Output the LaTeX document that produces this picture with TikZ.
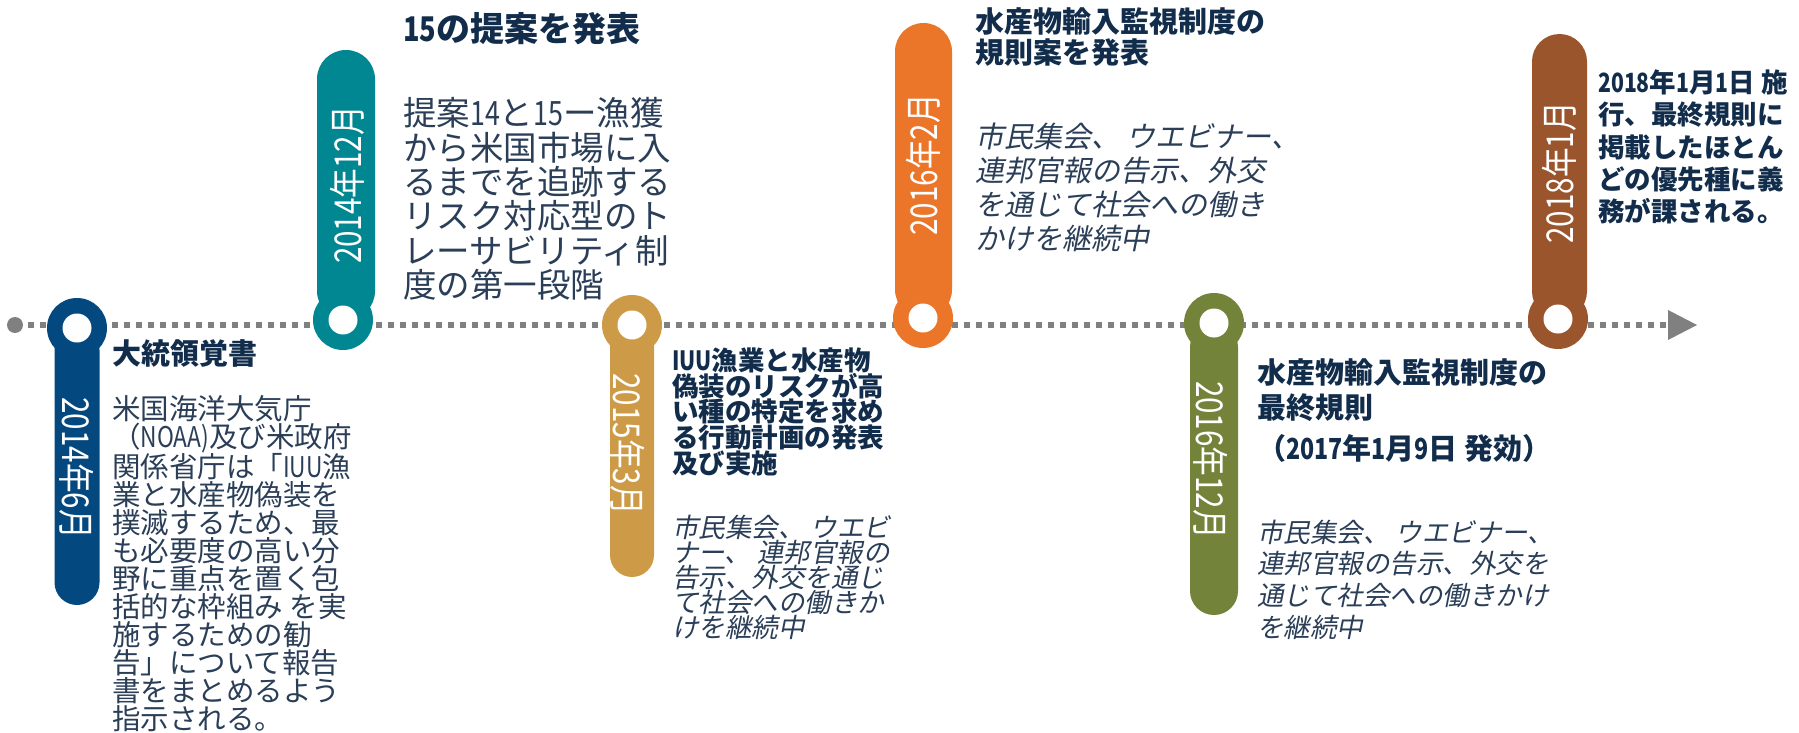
\documentclass[tikz,border=0pt]{standalone}
\usepackage{fontspec}
\setmainfont{Noto Sans CJK JP}
\newfontfamily\jpit{Noto Sans CJK JP}[FakeSlant=0.2]
\newfontfamily\jpcn{Noto Sans CJK JP}[FakeStretch=0.8]
\newcommand\cn[1]{{\jpcn #1}}
\definecolor{cnavy}{RGB}{4,72,128}
\definecolor{cteal}{RGB}{0,135,145}
\definecolor{cgold}{RGB}{205,155,72}
\definecolor{corange}{RGB}{235,117,40}
\definecolor{cgreen}{RGB}{115,132,58}
\definecolor{cbrown}{RGB}{155,85,45}
\definecolor{cline}{RGB}{128,128,128}
\definecolor{ctitle}{RGB}{18,45,75}
\definecolor{cbody}{RGB}{42,62,88}
\tikzset{
  timeline/.style={draw=cline, line width=5.5pt, dash pattern=on 5.5pt off 6.5pt},
  startdot/.style={circle, fill=cline, inner sep=0, minimum size=16pt},
  ring/.style={circle, fill=#1, inner sep=0, minimum size=60pt},
  hole/.style={circle, fill=white, inner sep=0, minimum size=29pt},
  datelbl/.style={text=white, inner sep=0, font=\jpcn\fontsize{37}{37}\selectfont},
  ttl/.style={anchor=north west, inner sep=0, align=left, text=ctitle},
  bdy/.style={anchor=north west, inner sep=0, align=left, text=cbody},
}
\begin{document}
\begin{tikzpicture}[x=1pt,y=-1pt]
\useasboundingbox (0,0) rectangle (1799,733);
% timeline
\node[startdot] (start) at (15,325) {};
\coordinate (lineend) at (1668,325);
\coordinate (tip) at (1697,325);
\draw[timeline] ([xshift=5pt]start.east) -- (lineend);
\fill[cline] (1668,310) -- (tip) -- (1668,340) -- cycle;

% marker 1 navy (down)
\fill[cnavy, rounded corners=22.5pt] (54.5,328) rectangle (99.5,605);
\node[ring=cnavy] (m1) at (77,328) {};
\node[hole] (h1) at (m1) {};
\node[datelbl, rotate=-90] (d1) at (77,468) {2014年6月};

% marker 2 teal (up)
\fill[cteal, rounded corners=29pt] (317,320) rectangle (375,50);
\node[ring=cteal] (m2) at (343,320) {};
\node[hole] (h2) at (m2) {};
\node[datelbl, rotate=90] (d2) at (347,185) {2014年12月};

% marker 3 gold (down)
\fill[cgold, rounded corners=22pt] (610,325) rectangle (654,577);
\node[ring=cgold] (m3) at (632,325) {};
\node[hole] (h3) at (m3) {};
\node[datelbl, rotate=-90] (d3) at (628,444) {2015年3月};

% marker 4 orange (up)
\fill[corange, rounded corners=28.5pt] (895,318) rectangle (952,23);
\node[ring=corange] (m4) at (923,318) {};
\node[hole] (h4) at (m4) {};
\node[datelbl, rotate=90] (d4) at (923,165) {2016年2月};

% marker 5 green (down)
\fill[cgreen, rounded corners=24pt] (1190,323) rectangle (1238,615);
\node[ring=cgreen] (m5) at (1214,323) {};
\node[hole] (h5) at (m5) {};
\node[datelbl, rotate=-90] (d5) at (1211,460) {2016年12月};

% marker 6 brown (up)
\fill[cbrown, rounded corners=27.5pt] (1532,319) rectangle (1587,34);
\node[ring=cbrown] (m6) at (1558,319) {};
\node[hole] (h6) at (m6) {};
\node[datelbl, rotate=90] (d6) at (1559,173) {2018年1月};

% texts
\node[ttl, font=\bfseries\fontsize{29}{29}\selectfont] (t1) at (112,339.4) {大統領覚書};
\node[bdy, font=\fontsize{28.5}{28}\selectfont] (b1) at (112,395) {米国海洋大気庁\\（\cn{NOAA)}及び米政府\\関係省庁は「\cn{IUU}漁\\業と水産物偽装を\\撲滅するため、最\\も必要度の高い分\\野に重点を置く包\\括的な枠組み を実\\施するための勧\\告」について報告\\書をまとめるよう\\指示される。};

\node[ttl, font=\bfseries\fontsize{34}{34}\selectfont] (t2) at (403,12) {\cn{15}の提案を発表};
\node[bdy, font=\fontsize{33.5}{34.4}\selectfont] (b2) at (403,97.3) {提案\cn{14}と\cn{15}ー漁獲\\から米国市場に入\\るまでを追跡する\\リスク対応型のト\\レーサビリティ制\\度の第一段階};

\node[ttl, font=\bfseries\fontsize{26.5}{25.8}\selectfont] (t3) at (672,347.5) {\cn{IUU}漁業と水産物\\偽装のリスクが高\\い種の特定を求め\\る行動計画の発表\\及び実施};
\node[bdy, font=\jpit\fontsize{26.5}{25}\selectfont] (b3) at (672,514.5) {市民集会、 ウエビ\\ナー、 連邦官報の\\告示、外交を通じ\\て社会への働きか\\けを継続中};

\node[ttl, font=\bfseries\fontsize{29}{31}\selectfont] (t4) at (975,7) {水産物輸入監視制度の\\規則案を発表};
\node[bdy, font=\jpit\fontsize{29}{34}\selectfont] (b4) at (975,123) {市民集会、 ウエビナー、\\連邦官報の告示、外交\\を通じて社会への働き\\かけを継続中};

\node[ttl, font=\bfseries\fontsize{29}{35}\selectfont] (t5) at (1257,358.4) {水産物輸入監視制度の\\最終規則\\[6pt]（\cn{2017}年\cn{1}月\cn{9}日 発効）};
\node[bdy, font=\jpit\fontsize{26.5}{31.7}\selectfont] (b5) at (1257,519.5) {市民集会、 ウエビナー、\\連邦官報の告示、外交を\\通じて社会への働きかけ\\を継続中};

\node[ttl, font=\bfseries\fontsize{26.5}{32.3}\selectfont] (t6) at (1598,69.5) {\cn{2018}年\cn{1}月\cn{1}日 施\\行、最終規則に\\掲載したほとん\\どの優先種に義\\務が課される。};
\end{tikzpicture}
\end{document}
